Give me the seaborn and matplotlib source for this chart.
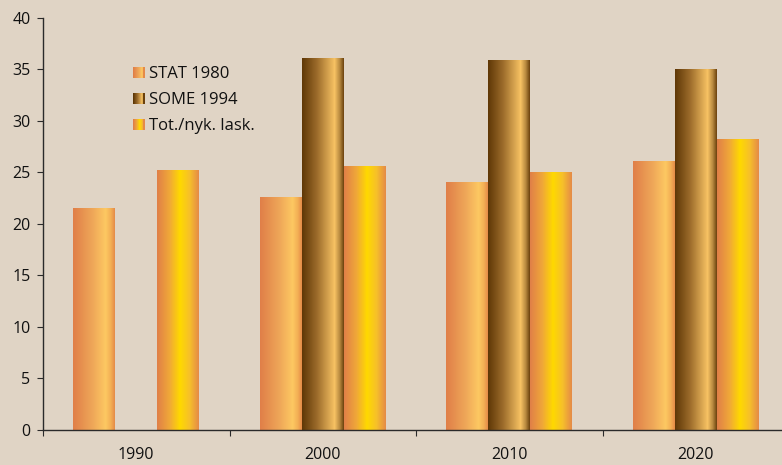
import numpy as np
import pandas as pd
import matplotlib
matplotlib.use("Agg")
import matplotlib.pyplot as plt
import seaborn as sns
from matplotlib.colors import LinearSegmentedColormap
from matplotlib.legend_handler import HandlerBase
from matplotlib.patches import Rectangle

years = ["1990", "2000", "2010", "2020"]
series = ["STAT 1980", "SOME 1994", "Tot./nyk. lask."]
stat_1980 = [21.5, 22.6, 24.0, 26.1]
some_1994 = [np.nan, 36.1, 35.9, 35.0]
tot_nyk = [25.2, 25.6, 25.0, 28.2]

bg = "#e0d4c5"

# horizontal gradients, left -> right
grads = {
    "STAT 1980": [(0.0, "#e07f48"), (0.45, "#eea558"), (0.78, "#fdc862"), (0.9, "#f3b055"), (1.0, "#e58a48")],
    "SOME 1994": [(0.0, "#5e3706"), (0.35, "#9a6a2a"), (0.78, "#f7c263"), (0.9, "#b88a40"), (1.0, "#6a400c")],
    "Tot./nyk. lask.": [(0.0, "#e07f48"), (0.3, "#f0a838"), (0.55, "#ffd900"), (0.78, "#f6c02a"), (1.0, "#e58a48")],
}
cmaps = {k: LinearSegmentedColormap.from_list(k, v) for k, v in grads.items()}

df = pd.DataFrame({
    "year": years * 3,
    "series": [s for s in series for _ in years],
    "value": stat_1980 + some_1994 + tot_nyk,
})

plt.rcParams["font.family"] = ["Open Sans", "DejaVu Sans"]
fig = plt.figure(figsize=(7.82, 4.65), dpi=100, facecolor=bg)
ax = fig.add_axes([0.055, 0.0753, 0.954, 0.886], facecolor=bg)

sns.barplot(data=df, x="year", y="value", hue="series", hue_order=series,
            order=years, width=0.675, ax=ax, legend=False, saturation=1)

gradient = np.tile(np.linspace(0, 1, 256), (4, 1))
for container, name in zip(ax.containers, series):
    for bar in container.patches:
        h = bar.get_height()
        if not np.isfinite(h) or h == 0:
            continue
        x0 = bar.get_x()
        x1 = x0 + bar.get_width()
        ax.imshow(gradient, extent=[x0, x1, 0, h], aspect="auto",
                  cmap=cmaps[name], zorder=2, interpolation="nearest")
        bar.set_visible(False)

ax.set_xlim(-0.5, 3.5)
ax.set_ylim(0, 40)
ax.set_yticks(range(0, 41, 5))
ax.set_xlabel("")
ax.set_ylabel("")

sns.despine(ax=ax, top=True, right=True)
for s in ["left", "bottom"]:
    ax.spines[s].set_color("#2a2a2a")
    ax.spines[s].set_linewidth(1.0)
    ax.spines[s].set_zorder(3)
ax.spines["left"].set_bounds(0, 40)

ax.tick_params(axis="y", direction="out", length=4, width=0.8, color="#2a2a2a",
               labelsize=11.5, pad=5, labelcolor="#111111")
ax.tick_params(axis="x", which="major", length=0, labelsize=11.5, pad=12,
               labelcolor="#111111")
ax.set_xticks([-0.5, 0.5, 1.5, 2.5], minor=True)
ax.tick_params(axis="x", which="minor", direction="out", length=4, width=0.8,
               color="#2a2a2a")


class GradHandler(HandlerBase):
    def __init__(self, cmap):
        super().__init__()
        self.cmap = cmap

    def create_artists(self, legend, orig_handle, xdescent, ydescent,
                       width, height, fontsize, trans):
        n = 12
        size = height * 0.95
        x0 = -xdescent + width - size
        y0 = -ydescent + (height - size) / 2
        arts = []
        for i in range(n):
            r = Rectangle((x0 + i * size / n, y0), size / n + 0.3, size,
                          facecolor=self.cmap(i / (n - 1)), edgecolor="none",
                          transform=trans)
            arts.append(r)
        return arts


handles = [Rectangle((0, 0), 1, 1) for _ in series]
leg = ax.legend(handles, series,
                handler_map={h: GradHandler(cmaps[s]) for h, s in zip(handles, series)},
                loc="upper left", bbox_to_anchor=(0.099, 0.92), frameon=False,
                fontsize=12, handlelength=0.75, handletextpad=0.3,
                labelspacing=0.6)
for t in leg.get_texts():
    t.set_color("#111111")

fig.savefig("out.png", dpi=100, facecolor=bg)
